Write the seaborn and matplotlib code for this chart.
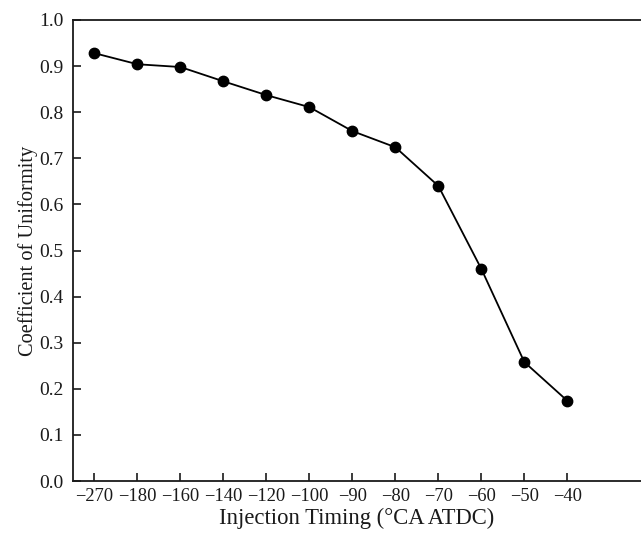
import matplotlib
matplotlib.use("Agg")
import matplotlib.pyplot as plt
import seaborn as sns
import pandas as pd

timing = [-270, -180, -160, -140, -120, -100, -90, -80, -70, -60, -50, -40]
cu = [0.928, 0.904, 0.898, 0.867, 0.837, 0.811, 0.759, 0.724, 0.640, 0.460, 0.258, 0.174]
yticks = [0.0, 0.1, 0.2, 0.3, 0.4, 0.5, 0.6, 0.7, 0.8, 0.9, 1.0]

sns.set_style("ticks")
plt.rcParams['font.family'] = ['Liberation Serif', 'DejaVu Serif']
plt.rcParams['axes.unicode_minus'] = True

labels = [("\u2212" + str(abs(t))) if t < 0 else str(t) for t in timing]
df = pd.DataFrame({"timing": labels, "cu": cu})

fig = plt.figure(figsize=(6.41, 5.37), dpi=100)
ax = fig.add_axes([73/641, 56/537, 1 - 73/641, 461/537])

sns.pointplot(data=df, x="timing", y="cu", order=labels, color="black",
              markers="o", linestyles="-", markersize=7.5, linewidth=1.3, ax=ax)

ax.set_xlim(-0.5, (641 - 94.3) / 43.0)
ax.set_ylim(0, 1.0)
ax.set_yticks(yticks)
ax.set_yticklabels([f"{v:.1f}" for v in yticks])
ax.set_xlabel("Injection Timing (\u00b0CA ATDC)", fontsize=16.3, color="#1a1a1a", labelpad=2)
ax.set_ylabel("Coefficient of Uniformity", fontsize=14.7, color="#1a1a1a", labelpad=1)
ax.tick_params(direction="in", length=6, width=1.2, colors="#1a1a1a")
ax.tick_params(axis="x", labelsize=13.3, pad=5)
ax.tick_params(axis="y", labelsize=14, pad=7)
ax.tick_params(top=False, right=False)
for s in ["left", "bottom", "top"]:
    ax.spines[s].set_linewidth(1.3)
    ax.spines[s].set_color("#1a1a1a")
ax.spines["right"].set_visible(False)
ax.grid(False)

fig.savefig("out.png", dpi=100)
